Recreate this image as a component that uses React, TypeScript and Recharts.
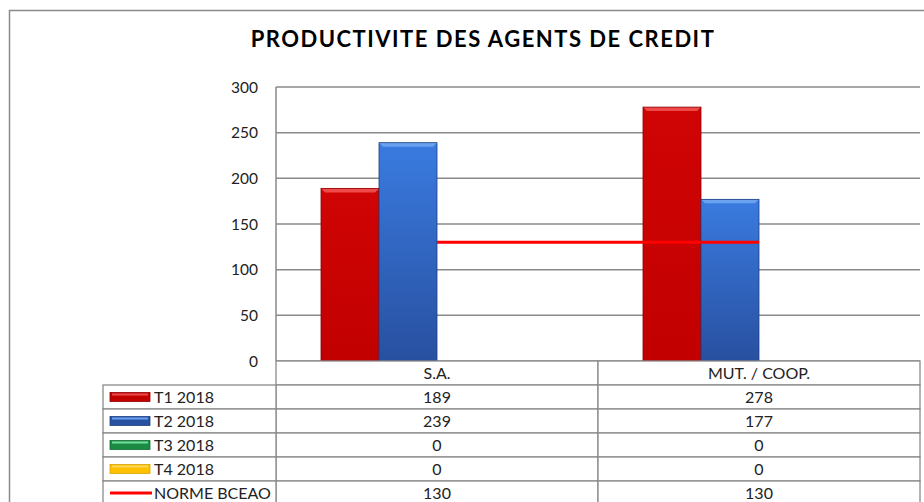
import React from "react";
import { ComposedChart, Bar, Line, XAxis, YAxis, CartesianGrid } from "recharts";

const categories = ["S.A.", "MUT. / COOP."];
const t1_2018 = [189, 278];
const t2_2018 = [239, 177];
const t3_2018 = [0, 0];
const t4_2018 = [0, 0];
const normeBceao = [130, 130];
const yTicks = [0, 50, 100, 150, 200, 250, 300];

const SERIES = [
  { key: "t1", name: "T1 2018", values: t1_2018 },
  { key: "t2", name: "T2 2018", values: t2_2018 },
  { key: "t3", name: "T3 2018", values: t3_2018 },
  { key: "t4", name: "T4 2018", values: t4_2018 },
  { key: "norme", name: "NORME BCEAO", values: normeBceao },
];

const STYLE: Record<string, { top: string; bottom: string; bevel: string; edge: string }> = {
  t1: { top: "#d00404", bottom: "#c20000", bevel: "#ee4a4a", edge: "#8e0000" },
  t2: { top: "#3a7be0", bottom: "#2850a0", bevel: "#6aa2f0", edge: "#1e3f80" },
  t3: { top: "#2cc064", bottom: "#1a8a44", bevel: "#70e09a", edge: "#126a32" },
  t4: { top: "#ffc000", bottom: "#ffc000", bevel: "#ffd860", edge: "#d9a300" },
};

const data = categories.map((cat, i) => {
  const row: Record<string, string | number> = { cat };
  SERIES.forEach((s) => (row[s.key] = s.values[i]));
  return row;
});

const W = 924;
const H = 502;
const MARGIN = { top: 87, right: 4, bottom: 0, left: 0 };
const Y_W = 276;
const PLOT_W = W - MARGIN.left - MARGIN.right - Y_W;
const ROW_H = 24;
const LABEL_COL = 173;
const GRID = "#8a8a8a";
const FONT = "Lato, 'Open Sans', sans-serif";

const bevelShape = (key: string) => (props: any) => {
  const { x, y, width, height } = props;
  if (!height || height <= 0) return <g />;
  const b = 4;
  return (
    <g>
      <rect x={x} y={y} width={width} height={height} fill={`url(#grad-${key})`} />
      <polygon
        points={`${x},${y} ${x + width},${y} ${x + width - b},${y + b} ${x + b},${y + b}`}
        fill={STYLE[key].bevel}
      />
      <rect x={x} y={y} width={width} height={height} fill="none" stroke={STYLE[key].edge} strokeWidth={0.8} />
    </g>
  );
};

const LegendKey = ({ k, x, cy }: { k: string; x: number; cy: number }) => {
  if (k === "norme") return <line x1={x} x2={x + 42} y1={cy} y2={cy} stroke="#ff0000" strokeWidth={3} />;
  const st = STYLE[k];
  return (
    <g>
      <rect x={x} y={cy - 4.5} width={40} height={9} fill={st.bottom} stroke={st.edge} strokeWidth={0.8} />
      <rect x={x + 2} y={cy - 3.5} width={36} height={2} fill={st.bevel} />
    </g>
  );
};

const TableTick = (props: any) => {
  const { x, y, payload } = props;
  const i = payload.index;
  const bw = PLOT_W / categories.length;
  const left = x - bw / 2;
  const textStyle = { fontFamily: FONT, fontSize: 16, fill: "#222" };
  return (
    <g>
      <rect x={left} y={y} width={bw} height={ROW_H} fill="#fff" stroke={GRID} strokeWidth={1.3} />
      <text x={x} y={y + ROW_H / 2 + 5.5} textAnchor="middle" {...textStyle}>
        {payload.value}
      </text>
      {SERIES.map((s, r) => {
        const ry = y + ROW_H * (r + 1);
        return (
          <g key={s.key}>
            <rect x={left} y={ry} width={bw} height={ROW_H} fill="#fff" stroke={GRID} strokeWidth={1.3} />
            <text x={x} y={ry + ROW_H / 2 + 5.5} textAnchor="middle" {...textStyle}>
              {s.values[i]}
            </text>
            {i === 0 && (
              <g>
                <rect x={left - LABEL_COL} y={ry} width={LABEL_COL} height={ROW_H} fill="#fff" stroke={GRID} strokeWidth={1.3} />
                <LegendKey k={s.key} x={left - LABEL_COL + 7} cy={ry + ROW_H / 2} />
                <text x={left - LABEL_COL + 51} y={ry + ROW_H / 2 + 5.5} {...textStyle}>
                  {s.name}
                </text>
              </g>
            )}
          </g>
        );
      })}
    </g>
  );
};

export default function App() {
  return (
    <div style={{ position: "absolute", left: 0, top: 0, width: W, height: H, background: "#fff", overflow: "hidden" }}>
      <ComposedChart
        width={W}
        height={H}
        data={data}
        margin={MARGIN}
        barCategoryGap={45}
        barGap={0}
      >
        <defs>
          {Object.keys(STYLE).map((k) => (
            <linearGradient key={k} id={`grad-${k}`} x1="0" y1="0" x2="0" y2="1">
              <stop offset="0%" stopColor={STYLE[k].top} />
              <stop offset="100%" stopColor={STYLE[k].bottom} />
            </linearGradient>
          ))}
        </defs>
        <CartesianGrid vertical={false} stroke={GRID} strokeWidth={1.5} />
        <YAxis
          width={Y_W}
          domain={[0, 300]}
          ticks={yTicks}
          tickLine={false}
          tickSize={0}
          tickMargin={18}
          axisLine={{ stroke: GRID, strokeWidth: 1.5 }}
          tick={{ fontFamily: FONT, fontSize: 15.5, fill: "#222" }}
        />
        <XAxis
          dataKey="cat"
          height={H - MARGIN.top - 274}
          interval={0}
          tickLine={false}
          axisLine={false}
          tickSize={0}
          tickMargin={0}
          tick={<TableTick />}
        />
        {SERIES.filter((s) => s.key !== "norme").map((s) => (
          <Bar key={s.key} dataKey={s.key} name={s.name} fill={STYLE[s.key].bottom} shape={bevelShape(s.key)} isAnimationActive={false} />
        ))}
        <Line dataKey="norme" name="NORME BCEAO" stroke="#ff0000" strokeWidth={3} dot={false} activeDot={false} isAnimationActive={false} />
      </ComposedChart>
      <svg width={W} height={H} style={{ position: "absolute", left: 0, top: 0, pointerEvents: "none" }}>
        <path d={`M9.5,${H + 5} L9.5,10.5 L${W + 5},10.5`} fill="none" stroke="#8a8a8a" strokeWidth={1.5} />
        <text x={483} y={47} textAnchor="middle" fontFamily={FONT} fontWeight="bold" fontSize={22} letterSpacing={1.5} fill="#000">
          PRODUCTIVITE DES AGENTS DE CREDIT
        </text>
      </svg>
    </div>
  );
}
